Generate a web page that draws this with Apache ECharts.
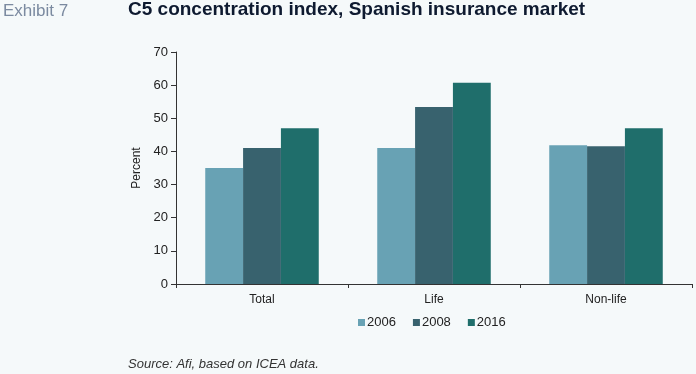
<!DOCTYPE html>
<html><head><meta charset="utf-8">
<script src="https://cdn.jsdelivr.net/npm/echarts@6/dist/echarts.min.js"></script>
<style>html,body{margin:0;padding:0;background:#f5f9fa;}#c{width:696px;height:374px;}</style>
</head><body><div id="c"></div>
<script>
const categories = ['Total', 'Life', 'Non-life'];
const years = ['2006', '2008', '2016'];
const values2006 = [35, 41, 41.9];
const values2008 = [41, 53.4, 41.6];
const values2016 = [47, 60.7, 47];
const yTicks = [0, 10, 20, 30, 40, 50, 60, 70];
const colors = ['#68a2b4', '#38626e', '#1f6e6b'];

const chart = echarts.init(document.getElementById('c'), null, {renderer: 'canvas'});
const seriesData = [values2006, values2008, values2016];
chart.setOption({
  backgroundColor: '#f5f9fa',
  animation: false,
  title: [
    {text: 'Exhibit 7', left: 3, top: 3, padding: 0, textStyle: {fontFamily: 'Liberation Sans', fontSize: 17, fontWeight: 'normal', color: '#7b8aa0'}},
    {text: 'C5 concentration index, Spanish insurance market', left: 128, top: 0, padding: 0, textStyle: {fontFamily: 'Liberation Sans', fontSize: 19, fontWeight: 'bold', color: '#0e1a30'}},
    {text: 'Source: Afi, based on ICEA data.', left: 128, top: 358, padding: 0, textStyle: {fontFamily: 'Liberation Sans', fontSize: 13, fontStyle: 'italic', fontWeight: 'normal', color: '#333'}}
  ],
  legend: {
    data: years, top: 316, left: 358, padding: 0, icon: 'rect', itemWidth: 7, itemHeight: 7, itemGap: 17,
    textStyle: {fontFamily: 'Liberation Sans', fontSize: 13, color: '#222', padding: [0, 0, 0, -3]}
  },
  grid: {left: 176, right: 4, top: 52, bottom: 90},
  xAxis: {
    type: 'category', data: categories,
    axisLine: {lineStyle: {color: '#333', width: 1}},
    axisTick: {show: true, length: 4, lineStyle: {color: '#333'}},
    axisLabel: {fontFamily: 'Liberation Sans', fontSize: 12, color: '#222', margin: 10}
  },
  yAxis: {
    type: 'value', min: yTicks[0], max: yTicks[yTicks.length - 1], interval: 10,
    name: 'Percent', nameLocation: 'middle', nameGap: 28,
    nameTextStyle: {fontFamily: 'Liberation Sans', fontSize: 12, color: '#222'},
    axisLine: {show: true, lineStyle: {color: '#333', width: 1}},
    axisTick: {show: true, length: 5, lineStyle: {color: '#333'}},
    splitLine: {show: false},
    axisLabel: {fontFamily: 'Liberation Sans', fontSize: 13, color: '#222', margin: 8}
  },
  series: years.map((y, i) => ({
    name: y, type: 'bar', data: seriesData[i], barGap: '0%', barCategoryGap: '34%',
    itemStyle: {color: colors[i]}
  }))
});
</script></body></html>
